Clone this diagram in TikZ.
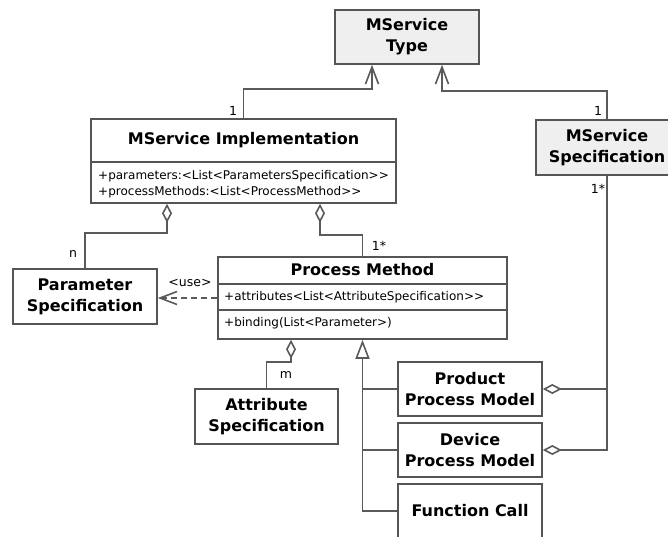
\documentclass[tikz,border=0pt]{standalone}
\usepackage{fontspec}
\setmainfont{DejaVu Sans}
\usetikzlibrary{arrows.meta}
\definecolor{boxc}{HTML}{555555}
\definecolor{linec}{HTML}{5A5A5A}
\definecolor{shade}{HTML}{EFEFEF}
\newcommand{\ttlf}{\fontsize{16}{21}\selectfont\bfseries}
\newcommand{\attf}{\fontsize{12}{14}\selectfont}
\newcommand{\lblf}{\fontsize{12.5}{14}\selectfont}
\newcommand{\gtgt}{>\kern0pt>}
\begin{document}
\begin{tikzpicture}[x=1pt,y=-1pt,
  cls/.style={draw=boxc,line width=1.6pt,inner sep=0pt,align=center,font=\ttlf,text=black},
  ttl/.style={inner sep=0pt,font=\ttlf,text=black},
  attr/.style={inner sep=0pt,font=\attf,text=black,anchor=west},
  lbl/.style={inner sep=0pt,font=\lblf,text=black},
  divl/.style={draw=boxc,line width=1.6pt},
  conn/.style={draw=linec,line width=1.6pt},
  nav/.style={-{Straight Barb[length=17pt,width=13pt]}},
  agg/.style={-{Diamond[open,length=19pt,width=10pt]}},
  gen/.style={-{Triangle[open,length=19pt,width=14pt]}}]
\useasboundingbox (0,0) rectangle (668,536);
\clip (0,0) rectangle (668,536);
\fill[white] (0,0) rectangle (668,536);

% classes
\node[cls,fill=shade,minimum width=144pt,minimum height=54pt] (type) at (407,37) {MService\\Type};
\node[cls,fill=shade,minimum width=142pt,minimum height=55pt] (spec) at (607,147.5) {MService\\Specification};

\node[cls,minimum width=305pt,minimum height=84pt] (impl) at (243.5,161) {};
\node[ttl] (implT) at (243.5,140) {MService Implementation};
\draw[divl] (91,162) -- (396,162);
\node[attr] (implA) at (98,176) {+parameters:<List<ParametersSpecification\gtgt};
\node[attr] (implB) at (98,192) {+processMethods:<List<ProcessMethod\gtgt};

\node[cls,minimum width=144pt,minimum height=55pt] (param) at (85,296.5) {Parameter\\Specification};

\node[cls,minimum width=289pt,minimum height=82pt] (pm) at (362.5,298) {};
\node[ttl] (pmT) at (362.5,270) {Process Method};
\draw[divl] (218,284) -- (507,284);
\draw[divl] (218,310) -- (507,310);
\node[attr] (pmA) at (224,297) {+attributes<List<AttributeSpecification\gtgt};
\node[attr] (pmB) at (224,323) {+binding(List<Parameter>)};

\node[cls,minimum width=143pt,minimum height=55pt] (attr) at (266.5,416.5) {Attribute\\Specification};
\node[cls,minimum width=144pt,minimum height=54pt] (ppm) at (470,389) {Product\\Process Model};
\node[cls,minimum width=144pt,minimum height=54pt] (dpm) at (470,450) {Device\\Process Model};
\node[cls,minimum width=144pt,minimum height=54pt] (fc) at (470,511) {Function Call};

% connectors
\draw[conn,nav] (impl.north) |- (372,89) -- ([xshift=-35pt]type.south);
\draw[conn,nav] (spec.north) |- (442,91) -- ([xshift=35pt]type.south);

\draw[conn,agg] (param.north) |- (167,233) -- ([xshift=-76.5pt]impl.south);
\draw[conn,agg] (pm.north) |- (320,235) -- ([xshift=76.5pt]impl.south);
\draw[conn,agg] (attr.north) |- (291,362) -- ([xshift=-71.5pt]pm.south);
\draw[conn,agg] (spec.south) |- (ppm.east);
\draw[conn,agg] (spec.south) |- (dpm.east);

\draw[conn,gen] (fc.west) -| (pm.south);
\draw[conn] (ppm.west) -- (ppm.west -| pm.south);
\draw[conn] (dpm.west) -- (dpm.west -| pm.south);

\draw[conn,nav,dash pattern=on 6pt off 4pt] (pm.west) -- (pm.west -| param.east);

% labels
\node[lbl] (l1) at (233,111) {1};
\node[lbl] (l2) at (598,111) {1};
\node[lbl] (l3) at (598,189) {1*};
\node[lbl] (l4) at (73,254) {n};
\node[lbl] (l5) at (379,246) {1*};
\node[lbl] (l6) at (286,375) {m};
\node[lbl] (l7) at (190,283) {<use>};
\end{tikzpicture}
\end{document}
